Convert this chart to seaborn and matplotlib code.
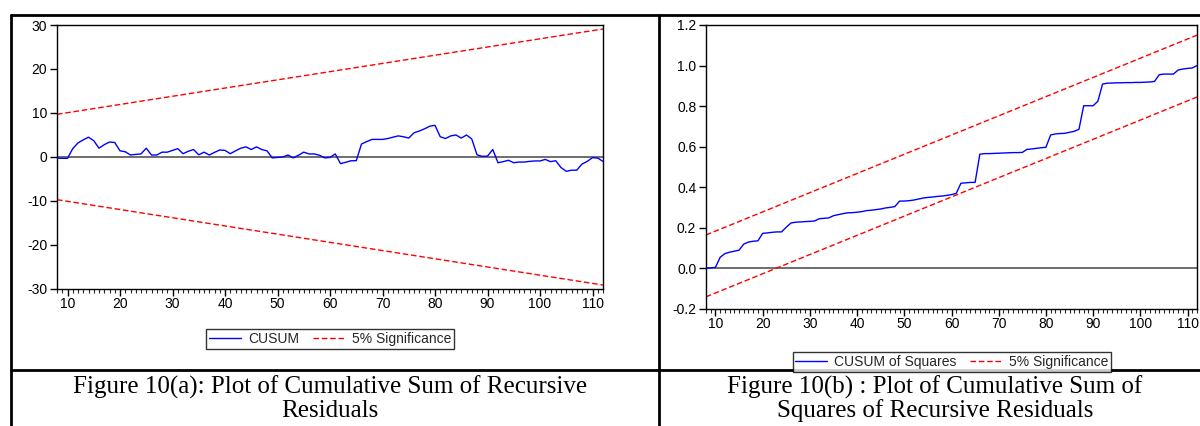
import numpy as np
import pandas as pd
import matplotlib
matplotlib.use('Agg')
import matplotlib.pyplot as plt
from matplotlib.lines import Line2D
from matplotlib.ticker import MultipleLocator, FormatStrFormatter
import seaborn as sns

# наблюдения (ось x)
obs = list(range(8, 113))

# CUSUM рекурсивных остатков
cusum = [
    -0.25, -0.3, -0.3, 1.9, 3.2, 3.9, 4.5, 3.7, 2.0, 2.8,
    3.4, 3.3, 1.4, 1.2, 0.45, 0.6, 0.7, 2.0, 0.45, 0.45,
    1.1, 1.1, 1.5, 1.9, 0.75, 1.3, 1.7, 0.5, 1.1, 0.45,
    1.05, 1.6, 1.5, 0.75, 1.4, 2.0, 2.3, 1.7, 2.3, 1.7,
    1.4, -0.2, -0.1, 0.0, 0.45, -0.2, 0.4, 1.1, 0.7, 0.7,
    0.4, -0.2, -0.1, 0.7, -1.5, -1.2, -0.85, -0.85, 2.95, 3.5,
    4.0, 4.0, 4.0, 4.2, 4.5, 4.8, 4.6, 4.3, 5.5, 5.9,
    6.4, 7.0, 7.2, 4.6, 4.2, 4.8, 5.0, 4.3, 5.0, 4.1,
    0.5, 0.15, 0.2, 1.7, -1.3, -1.05, -0.75, -1.3, -1.15, -1.15,
    -1.0, -0.9, -0.9, -0.55, -1.05, -0.85, -2.4, -3.25, -3.0, -3.0,
    -1.6, -1.0, -0.15, -0.25, -1.0,
]

# CUSUM of squares
cusum_sq = [
    0.0, 0.003, 0.005, 0.055, 0.073, 0.08, 0.085, 0.09, 0.12, 0.13,
    0.134, 0.136, 0.173, 0.175, 0.178, 0.18, 0.18, 0.203, 0.224, 0.228,
    0.229, 0.231, 0.232, 0.234, 0.245, 0.247, 0.249, 0.26, 0.265, 0.27,
    0.274, 0.275, 0.277, 0.28, 0.285, 0.287, 0.29, 0.293, 0.298, 0.301,
    0.305, 0.332, 0.332, 0.334, 0.337, 0.342, 0.347, 0.35, 0.352, 0.355,
    0.357, 0.36, 0.364, 0.37, 0.42, 0.422, 0.424, 0.424, 0.563, 0.566,
    0.566, 0.567, 0.568, 0.569, 0.57, 0.571, 0.571, 0.572, 0.587, 0.589,
    0.592, 0.595, 0.597, 0.658, 0.663, 0.665, 0.666, 0.671, 0.676, 0.686,
    0.802, 0.802, 0.802, 0.824, 0.909, 0.913, 0.914, 0.915, 0.915, 0.916,
    0.916, 0.917, 0.917, 0.918, 0.919, 0.922, 0.955, 0.958, 0.958, 0.958,
    0.978, 0.983, 0.986, 0.988, 1.0,
]

# границы 5% значимости (прямые линии)
bound_obs = [8, 112]
cusum_upper = [9.7, 29.1]
cusum_lower = [-9.7, -29.1]
sq_upper = [0.165, 1.15]
sq_lower = [-0.14, 0.845]

W, H = 1200, 426

sns.set_theme(style='white')
plt.rcParams['font.family'] = ['Liberation Sans', 'DejaVu Sans']
plt.rcParams['axes.unicode_minus'] = False


def px_box(x0, y0, x1, y1):
    """перевод пикселей в доли фигуры"""
    return [x0 / W, 1 - y1 / H, (x1 - x0) / W, (y1 - y0) / H]


def style_axes(ax):
    for s in ax.spines.values():
        s.set_color('black')
        s.set_linewidth(1)
    ax.xaxis.set_major_locator(MultipleLocator(10))
    ax.xaxis.set_minor_locator(MultipleLocator(1))
    ax.tick_params(axis='x', which='major', direction='out', length=5, width=1,
                   bottom=True, top=False, labelsize=10, pad=1, colors='black')
    ax.tick_params(axis='x', which='minor', direction='out', length=3, width=0.8,
                   bottom=True, top=False)
    ax.tick_params(axis='y', which='major', direction='out', length=5, width=1,
                   left=True, right=False, labelsize=10, pad=2, colors='black')
    ax.set_xlim(8, 112)
    ax.set(xlabel='', ylabel='')
    ax.axhline(0, color='#555555', lw=1.2, zorder=1)


fig = plt.figure(figsize=(12, 4.26), dpi=100)
ax1 = fig.add_axes(px_box(57, 25, 603, 289))
ax2 = fig.add_axes(px_box(706, 25, 1197, 309))

dash = (0, (4, 2))

# левый график - CUSUM
df1 = pd.DataFrame({'obs': obs, 'value': cusum})
sns.lineplot(data=df1, x='obs', y='value', ax=ax1, color='blue', lw=1, zorder=3)
sns.lineplot(x=bound_obs, y=cusum_upper, ax=ax1, color='red', lw=1, linestyle=dash)
sns.lineplot(x=bound_obs, y=cusum_lower, ax=ax1, color='red', lw=1, linestyle=dash)
style_axes(ax1)
ax1.set_ylim(-30, 30)
ax1.yaxis.set_major_locator(MultipleLocator(10))

# правый график - CUSUM of squares
df2 = pd.DataFrame({'obs': obs, 'value': cusum_sq})
sns.lineplot(data=df2, x='obs', y='value', ax=ax2, color='blue', lw=1, zorder=3)
sns.lineplot(x=bound_obs, y=sq_upper, ax=ax2, color='red', lw=1, linestyle=dash)
sns.lineplot(x=bound_obs, y=sq_lower, ax=ax2, color='red', lw=1, linestyle=dash)
style_axes(ax2)
ax2.set_ylim(-0.2, 1.2)
ax2.yaxis.set_major_locator(MultipleLocator(0.2))
ax2.yaxis.set_major_formatter(FormatStrFormatter('%.1f'))

# легенды
def add_legend(label, cx, cy):
    handles = [Line2D([], [], color='blue', lw=1),
               Line2D([], [], color='red', lw=1, linestyle=dash)]
    leg = fig.legend(handles, [label, '5% Significance'], loc='center',
                     bbox_to_anchor=(cx / W, 1 - cy / H), ncol=2, frameon=True,
                     fancybox=False, edgecolor='black', fontsize=10,
                     handlelength=2.3, columnspacing=1.0, handletextpad=0.5,
                     borderpad=0.2, borderaxespad=0)
    leg.get_frame().set_linewidth(1)


add_legend('CUSUM', 330, 339)
add_legend('CUSUM of Squares', 952, 362)

# рамка таблицы
def hline(y, x0, x1):
    fig.add_artist(Line2D([x0 / W, x1 / W], [1 - y / H, 1 - y / H],
                          color='black', lw=2, transform=fig.transFigure))


def vline(x, y0, y1):
    fig.add_artist(Line2D([x / W, x / W], [1 - y0 / H, 1 - y1 / H],
                          color='black', lw=2, transform=fig.transFigure))


hline(15, 11, 1200)
hline(370, 11, 1200)
vline(11, 15, 426)
vline(659, 15, 426)

# подписи
serif = ['Liberation Serif', 'DejaVu Serif']
fig.text(330 / W, 1 - 387 / H, 'Figure 10(a): Plot of Cumulative Sum of Recursive',
         ha='center', va='center', family=serif, fontsize=18, color='black')
fig.text(330 / W, 1 - 411 / H, 'Residuals',
         ha='center', va='center', family=serif, fontsize=18, color='black')
fig.text(935 / W, 1 - 387 / H, 'Figure 10(b) : Plot of Cumulative Sum of',
         ha='center', va='center', family=serif, fontsize=18, color='black')
fig.text(935 / W, 1 - 411 / H, 'Squares of Recursive Residuals',
         ha='center', va='center', family=serif, fontsize=18, color='black')

fig.savefig('out.png', dpi=100)
